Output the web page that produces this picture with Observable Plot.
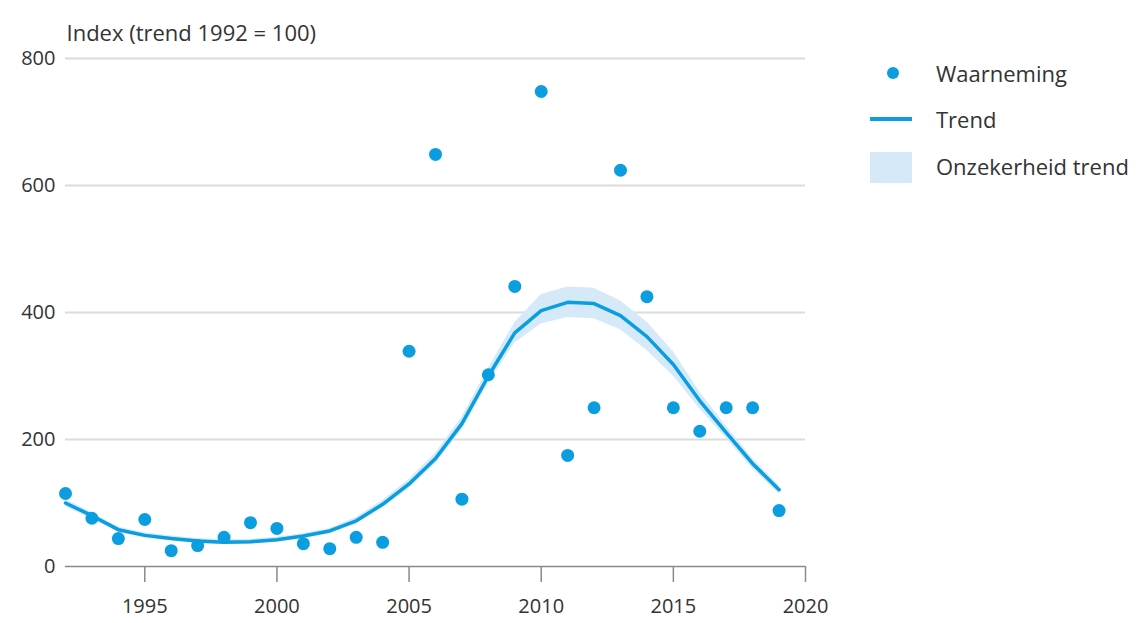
<!DOCTYPE html>
<html>
<head>
<meta charset="utf-8">
<script src="https://cdn.jsdelivr.net/npm/d3@7"></script>
<script src="https://cdn.jsdelivr.net/npm/@observablehq/plot@0.6"></script>
<style>
  html, body { margin: 0; padding: 0; background: #fff; }
  #wrap { position: relative; width: 1143px; height: 623px; font-family: "Open Sans", sans-serif; }
  .leg { position: absolute; left: 0; top: 0; color: #333; font-size: 22px; }
  .leg .item { position: absolute; left: 936px; white-space: nowrap; line-height: 28px; }
  .leg .sym { position: absolute; }
</style>
</head>
<body>
<div id="wrap"></div>
<script>
const years = [1992,1993,1994,1995,1996,1997,1998,1999,2000,2001,2002,2003,2004,2005,2006,2007,2008,2009,2010,2011,2012,2013,2014,2015,2016,2017,2018,2019];
const observed = [115,76,44,74,25,33,46,69,60,36,28,46,38,339,649,106,302,441,748,175,250,624,425,250,213,250,250,88];
const trend = [100,80,58,49,44,40,38,39,42,48,56,72,98,130,170,225,300,368,403,416,414,395,362,318,261,211,162,121];
const trendLow = [94,75,54,45,40,36,35,35,38,44,52,67,92,123,162,215,288,352,382,392,390,373,340,300,248,202,154,114];
const trendHigh = [106,85,62,53,48,44,42,43,46,52,60,77,104,137,178,235,312,384,428,440,438,418,385,338,275,221,170,128];
const xTicks = [1995,2000,2005,2010,2015,2020];
const yTicks = [0,200,400,600,800];
const yTitle = "Index (trend 1992 = 100)";
const legendLabels = ["Waarneming","Trend","Onzekerheid trend"];

const blue = "#0a9de0";
const bandCol = "#d5e9f8";

const rows = years.map((y,i) => ({year: y, obs: observed[i], trend: trend[i], lo: trendLow[i], hi: trendHigh[i]}));

const chart = Plot.plot({
  width: 1143,
  height: 623,
  marginLeft: 65,
  marginRight: 338,
  marginTop: 58,
  marginBottom: 57,
  style: {fontFamily: "Open Sans, sans-serif", fontSize: "20px", color: "#333", background: "#fff"},
  x: {domain: [1992, 2020]},
  y: {domain: [0, 800]},
  marks: [
    Plot.ruleY(yTicks.filter(d => d > 0), {stroke: "#dcdcdc", strokeWidth: 2}),
    Plot.ruleY([0], {stroke: "#8a8a8a", strokeWidth: 1.5}),
    Plot.axisX({ticks: xTicks, tickFormat: d => String(d), tickSize: 16, tickPadding: 16, stroke: "#8a8a8a", strokeWidth: 1.5, label: null, fill: "#333", fontSize: 20}),
    Plot.axisY({ticks: yTicks, tickSize: 0, tickPadding: 10, label: null, fill: "#333", fontSize: 20}),
    Plot.areaY(rows, {x: "year", y1: "lo", y2: "hi", fill: bandCol, curve: "linear"}),
    Plot.line(rows, {x: "year", y: "trend", stroke: blue, strokeWidth: 3.5, curve: "linear"}),
    Plot.dot(rows, {x: "year", y: "obs", r: 6.5, fill: blue, stroke: "none"}),
    Plot.text([yTitle], {frameAnchor: "top-left", dy: -33, dx: 1, textAnchor: "start", text: d => d, fontSize: 22, fill: "#333"})
  ]
});
chart.style.position = "absolute";
chart.style.left = "0";
chart.style.top = "0";
const wrap = document.getElementById("wrap");
wrap.appendChild(chart);

const leg = document.createElement("div");
leg.className = "leg";
leg.innerHTML = `
  <div class="sym" style="left:887px;top:67px;width:12px;height:12px;border-radius:50%;background:${blue}"></div>
  <div class="item" style="top:59px">${legendLabels[0]}</div>
  <div class="sym" style="left:870px;top:117px;width:42px;height:4px;background:${blue}"></div>
  <div class="item" style="top:105px">${legendLabels[1]}</div>
  <div class="sym" style="left:870px;top:152px;width:42px;height:31px;background:${bandCol}"></div>
  <div class="item" style="top:152px">${legendLabels[2]}</div>
`;
wrap.appendChild(leg);
</script>
</body>
</html>
